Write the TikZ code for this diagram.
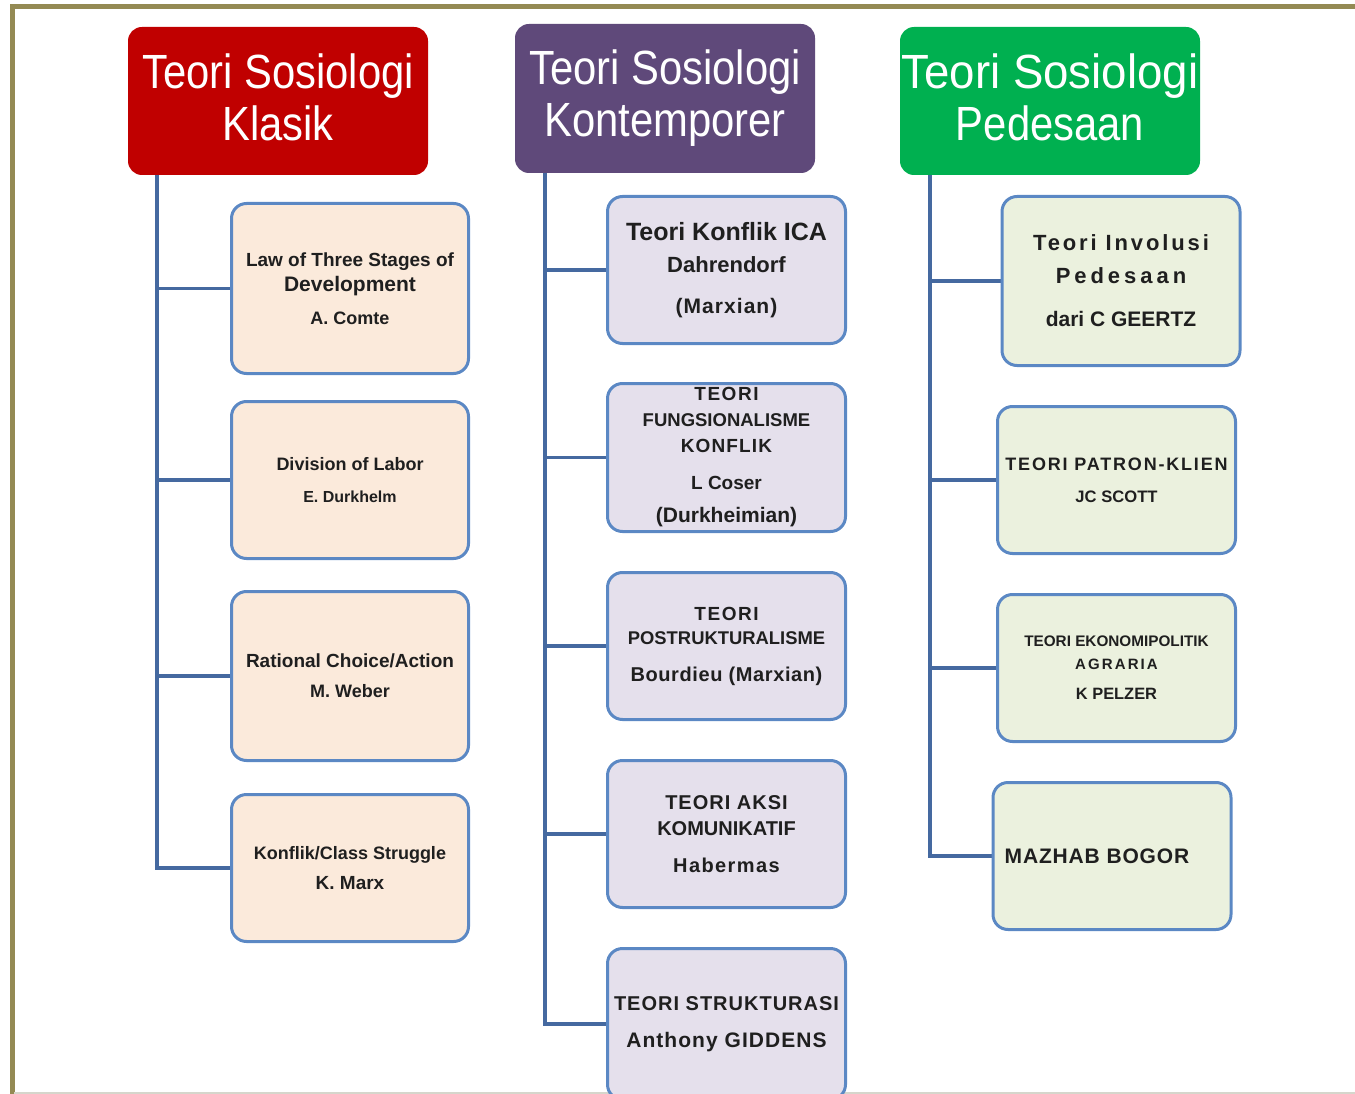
\documentclass[tikz,border=0pt]{standalone}
\usepackage{fontspec}
\setmainfont{Liberation Sans}
\newfontfamily\hdrfont[FakeStretch=0.87]{Liberation Sans}
\usetikzlibrary{backgrounds}
\definecolor{frameolive}{HTML}{948A54}
\definecolor{framegray}{HTML}{D6D6CC}
\definecolor{hdrred}{HTML}{C00000}
\definecolor{hdrpurple}{HTML}{5F497A}
\definecolor{hdrgreen}{HTML}{00B050}
\definecolor{trunkblue}{HTML}{4569A0}
\definecolor{boxblue}{HTML}{5B88C4}
\definecolor{fillpeach}{HTML}{FBEADB}
\definecolor{filllav}{HTML}{E5E0EC}
\definecolor{fillsage}{HTML}{EBF1DE}
\newcommand\bxl[2]{{\fontsize{#1}{25}\selectfont #2}}
\newcommand\bxls[3]{{\fontsize{#1}{25}\selectfont\addfontfeatures{LetterSpace=#2}#3}}
\newcommand\lowpad{\rule[-8pt]{0pt}{8pt}}
\begin{document}
\begin{tikzpicture}[x=1pt,y=-1pt,
  hdr/.style={rounded corners=14pt, minimum width=300pt, minimum height=148pt,
    inner sep=0pt, text=white, align=center, font=\hdrfont\fontsize{48}{52}\selectfont},
  tbox/.style={draw=boxblue, line width=3pt, rounded corners=15pt, inner sep=0pt,
    align=center, font=\bfseries\fontsize{19}{25}\selectfont, text=black!88},
  redbox/.style={tbox, fill=fillpeach, minimum width=237pt},
  purbox/.style={tbox, fill=filllav, minimum width=238pt},
  grnbox/.style={tbox, fill=fillsage, minimum width=238pt},
  trunk/.style={draw=trunkblue, line width=3.5pt},
  frame/.style={draw=frameolive, line width=5pt}]
\useasboundingbox (0,0) rectangle (1355,1094);

% frame
\draw[frame] (1360,6.5) -| (12,1100);
\draw[draw=framegray, line width=1.5pt] (14,1093) -- (1355,1093);

% headers
\node[hdr, fill=hdrred] (red) at (278,101) {Teori Sosiologi\\Klasik\lowpad};
\node[hdr, fill=hdrpurple, minimum height=149pt] (pur) at (665,98.5) {Teori Sosiologi\\Kontemporer};
\node[hdr, fill=hdrgreen] (grn) at (1050,101) {\addfontfeatures{FakeStretch=0.95}Teori Sosiologi\\Pedesaan\lowpad};

% red column
\node[redbox, minimum height=170pt] (b1) at (350,288.5)
  {\bxl{19}{Law of Three Stages of}\\ \bxl{21}{Development}\\[8pt] \bxl{18}{A. Comte}};
\node[redbox, minimum height=157pt] (b2) at (350,480)
  {\bxl{18}{Division of Labor}\\[7pt] \bxl{16}{E. Durkhelm}};
\node[redbox, minimum height=169pt] (b3) at (350,676)
  {\bxl{19}{Rational Choice/Action}\\[5pt] \bxl{18}{M. Weber}};
\node[redbox, minimum height=147pt] (b4) at (350,868)
  {\bxl{18}{Konflik/Class Struggle}\\[5pt] \bxl{19}{K. Marx}};

% purple column
\node[purbox, minimum height=147pt] (p1) at (726.5,270)
  {\bxl{25}{Teori Konflik ICA}\\[7pt] \bxl{22}{Dahrendorf}\\[16pt] \bxls{21}{5}{(Marxian)}};
\node[purbox, minimum height=148pt] (p2) at (726.5,457.5)
  {\bxls{19}{8}{TEORI}\\[1pt] \bxl{18.5}{FUNGSIONALISME}\\[1pt] \bxls{19}{6}{KONFLIK}\\[12pt]
   \bxl{19}{L Coser}\\[8pt] \bxl{21}{(Durkheimian)}};
\node[purbox, minimum height=147pt] (p3) at (726.5,646)
  {\bxls{19}{8}{TEORI}\\[-1pt] \bxl{18.4}{POSTRUKTURALISME}\\[12pt] \bxls{20}{3}{Bourdieu (Marxian)}};
\node[purbox, minimum height=147pt] (p4) at (726.5,834)
  {\bxls{20}{5}{TEORI AKSI}\\[1pt] \bxl{20}{KOMUNIKATIF}\\[12pt] \bxls{20}{7}{Habermas}};
\node[purbox, minimum height=151pt] (p5) at (726.5,1024)
  {\bxls{20}{5}{TEORI STRUKTURASI}\\[12pt] \bxls{21}{5}{Anthony GIDDENS}};

% green column
\node[grnbox, minimum height=169pt] (g1) at (1121,281)
  {\bxls{22}{13}{Teori Involusi}\\[8pt] \bxls{22}{18}{Pedesaan}\\[18pt] \bxl{21}{dari C GEERTZ}};
\node[grnbox, minimum height=147pt] (g2) at (1116.5,480)
  {\bxls{18}{10}{TEORI PATRON-KLIEN}\\[7pt] \bxl{16.6}{JC SCOTT}};
\node[grnbox, minimum height=147pt] (g3) at (1116.5,668)
  {\bxl{15.3}{TEORI EKONOMIPOLITIK}\\[-2pt] \bxls{15}{14}{AGRARIA}\\[5pt] \bxl{16.4}{K PELZER}};
\node[grnbox, minimum height=147pt] (g4) at (1112,856)
  {\bxls{21}{4}{MAZHAB BOGOR}\hspace*{30pt}};

% trunks and branches
\coordinate (rt) at (157,175);
\coordinate (pt) at (545,173);
\coordinate (gt) at (930,175);
\begin{scope}[on background layer]
  \draw[trunk] (rt) |- (b4.west);
  \draw[trunk] (rt |- b1.west) -- (b1.west);
  \draw[trunk] (rt |- b2.west) -- (b2.west);
  \draw[trunk] (rt |- b3.west) -- (b3.west);
  \draw[trunk] (pt) |- (p5.west);
  \draw[trunk] (pt |- p1.west) -- (p1.west);
  \draw[trunk] (pt |- p2.west) -- (p2.west);
  \draw[trunk] (pt |- p3.west) -- (p3.west);
  \draw[trunk] (pt |- p4.west) -- (p4.west);
  \draw[trunk] (gt) |- (g4.west);
  \draw[trunk] (gt |- g1.west) -- (g1.west);
  \draw[trunk] (gt |- g2.west) -- (g2.west);
  \draw[trunk] (gt |- g3.west) -- (g3.west);
\end{scope}
\end{tikzpicture}
\end{document}
